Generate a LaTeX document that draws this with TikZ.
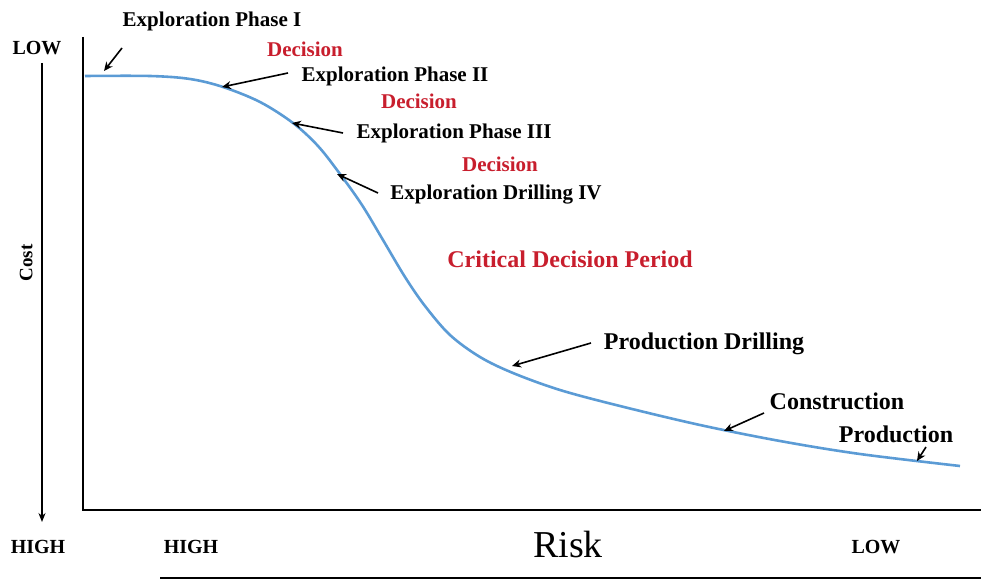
\documentclass[tikz,border=0pt]{standalone}
\usepackage{fontspec}
\setmainfont{Liberation Serif}
\usetikzlibrary{arrows.meta}
\definecolor{decred}{RGB}{200,30,45}
\definecolor{curveblue}{RGB}{91,155,213}
\begin{document}
\begin{tikzpicture}[x=1pt,y=-1pt,
  lbl/.style={font=\bfseries\fontsize{21}{25}\selectfont, inner sep=0pt, anchor=mid},
  biglbl/.style={font=\bfseries\fontsize{24}{28}\selectfont, inner sep=0pt, anchor=mid},
  redlbl/.style={lbl, text=decred},
  ptr/.style={-{Stealth[length=9pt,width=8pt]}, line width=1.6pt},
  axisline/.style={line width=2.6pt}]
\useasboundingbox (0,0) rectangle (981,585);
% axes
\coordinate (ytop) at (83,37);
\coordinate (orig) at (83,510);
\coordinate (xend) at (981,510);
\draw[axisline] (ytop) -- (orig) -- (xend);
% cost arrow
\coordinate (cA) at (42,63);
\coordinate (cB) at (42,522);
\draw[line width=1.8pt,-{Stealth[length=9pt,width=7pt]}] (cA) -- (cB);
\node[lbl, font=\bfseries\fontsize{19}{22}\selectfont, rotate=90] (cost) at (30,263) {Cost};
\node[lbl, font=\bfseries\fontsize{20}{24}\selectfont] (lowL) at (37,52) {LOW};
\node[lbl, font=\bfseries\fontsize{20}{24}\selectfont] (highL) at (38,551) {HIGH};
% risk axis
\node[lbl, font=\bfseries\fontsize{20}{24}\selectfont] (highB) at (191,551) {HIGH};
\node[lbl, font=\fontsize{38}{44}\selectfont] (risk) at (568,555) {Risk};
\node[lbl, font=\bfseries\fontsize{20}{24}\selectfont] (lowB) at (876,551) {LOW};
\coordinate (rA) at (160,578);
\coordinate (rB) at (981,578);
\draw[axisline] (rA) -- (rB);
% curve
\draw[curveblue, line width=2.6pt] plot[smooth, tension=0.55] coordinates {
 (85,76) (150,76) (190,79) (223,87) (260,102) (293,123) (318,146) (340,174)
 (362,205) (383,240) (405,277) (425,306) (450,335) (480,357) (513,373)
 (560,390) (620,406) (700,425) (780,441) (860,454) (960,466)};
% labels
\node[lbl] (e1) at (212,24) {Exploration Phase I};
\node[redlbl] (d1) at (305,54) {Decision};
\node[lbl] (e2) at (395,79) {Exploration Phase II};
\node[redlbl] (d2) at (419,106) {Decision};
\node[lbl] (e3) at (454,136) {Exploration Phase III};
\node[redlbl] (d3) at (500,169) {Decision};
\node[lbl] (e4) at (496,197) {Exploration Drilling IV};
\node[biglbl, text=decred] (crit) at (570,265) {Critical Decision Period};
\node[biglbl] (pd) at (704,347) {Production Drilling};
\node[biglbl] (con) at (837,407) {Construction};
\node[biglbl] (prod) at (896,440) {Production};
% pointer arrows
\coordinate (a1s) at (122,48); \coordinate (a1t) at (104,71);
\coordinate (a2s) at (288,73); \coordinate (a2t) at (222,87);
\coordinate (a3s) at (343,133); \coordinate (a3t) at (292,123);
\coordinate (a4s) at (378,193); \coordinate (a4t) at (337,174);
\coordinate (a5s) at (591,343); \coordinate (a5t) at (512,366);
\coordinate (a6s) at (764,413); \coordinate (a6t) at (724,431);
\coordinate (a7s) at (926,447); \coordinate (a7t) at (917,461);
\draw[ptr] (a1s) -- (a1t);
\draw[ptr] (a2s) -- (a2t);
\draw[ptr] (a3s) -- (a3t);
\draw[ptr] (a4s) -- (a4t);
\draw[ptr] (a5s) -- (a5t);
\draw[ptr] (a6s) -- (a6t);
\draw[ptr] (a7s) -- (a7t);
\end{tikzpicture}
\end{document}
